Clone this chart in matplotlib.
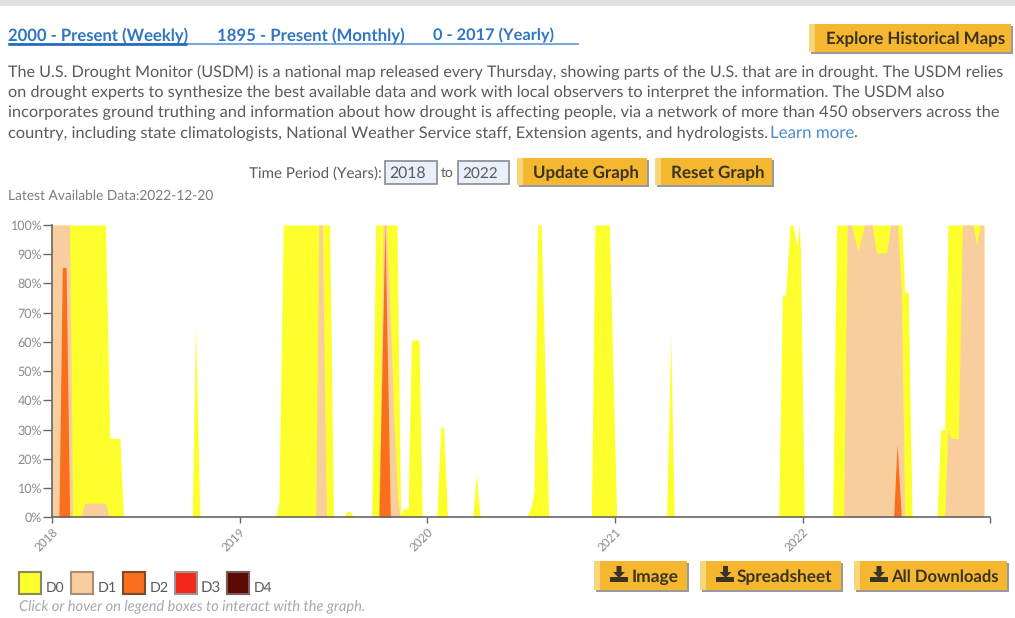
import numpy as np
import matplotlib
matplotlib.use("Agg")
import matplotlib.pyplot as plt
from matplotlib.patches import Rectangle, Polygon
from matplotlib.font_manager import FontProperties
from matplotlib.textpath import TextPath

plt.rcParams["text.hinting"] = "no_hinting"
plt.rcParams["text.hinting_factor"] = 8

# ---------- data (decimal year, percent of area) ----------
d0_years = [2018.000, 2018.285, 2018.308, 2018.362, 2018.381,
            2018.747, 2018.765, 2018.788,
            2019.192, 2019.209, 2019.232, 2019.480, 2019.500,
            2019.551, 2019.572, 2019.590, 2019.607,
            2019.703, 2019.725, 2019.838, 2019.858, 2019.874, 2019.897, 2019.915, 2019.956, 2019.973,
            2020.050, 2020.071, 2020.087, 2020.108,
            2020.242, 2020.261, 2020.281,
            2020.529, 2020.555, 2020.568, 2020.588, 2020.607, 2020.647,
            2020.874, 2020.893, 2020.970, 2021.009,
            2021.275, 2021.297, 2021.316,
            2021.872, 2021.892, 2021.909, 2021.932, 2021.948, 2021.970, 2021.982, 2021.989, 2022.009,
            2022.160, 2022.181, 2022.528, 2022.544, 2022.563, 2022.583,
            2022.716, 2022.735, 2022.757, 2022.774, 2022.966]
d0_values = [100, 100, 27, 27, 0,
             0, 66, 0,
             0, 5, 100, 100, 0,
             0, 2, 2, 0,
             0, 100, 100, 1, 3, 3, 60.7, 60.7, 0,
             0, 30.8, 30.8, 0,
             0, 15, 0,
             0, 4, 9, 100, 100, 0,
             0, 100, 100, 0,
             0, 62, 0,
             0, 76, 76, 100, 100, 93, 100, 90, 0,
             0, 100, 100, 77, 77, 0,
             0, 30, 30, 100, 100]

d1_years = [2018.000, 2018.094, 2018.110,
            2018.155, 2018.173, 2018.285, 2018.305,
            2019.405, 2019.422, 2019.440, 2019.462,
            2019.742, 2019.764, 2019.782, 2019.801, 2019.821, 2019.840, 2019.853,
            2022.218, 2022.238, 2022.259, 2022.295, 2022.330, 2022.371, 2022.393, 2022.448, 2022.469,
            2022.506, 2022.526, 2022.544,
            2022.757, 2022.774, 2022.789, 2022.830, 2022.851, 2022.908, 2022.927, 2022.947, 2022.966]
d1_values = [100, 100, 0,
             0, 4.8, 4.8, 0,
             0, 100, 100, 0,
             0, 100, 100, 72, 35, 8, 0,
             0, 100, 100, 91, 100, 100, 90.5, 90.5, 100,
             100, 77, 0,
             0, 30, 27, 27, 100, 100, 93, 100, 100]

d2_years = [2018.037, 2018.055, 2018.075, 2018.094,
            2019.742, 2019.774, 2019.803,
            2022.485, 2022.503, 2022.526]
d2_values = [0, 85.5, 85.5, 0,
             0, 100, 0,
             0, 25, 0]

year_ticks = [2018, 2019, 2020, 2021, 2022]
pct_ticks = list(range(0, 101, 10))
legend_labels = ["D0", "D1", "D2", "D3", "D4"]

body_lines = [
    "The U.S. Drought Monitor (USDM) is a national map released every Thursday, showing parts of the U.S. that are in drought. The USDM relies",
    "on drought experts to synthesize the best available data and work with local observers to interpret the information. The USDM also",
    "incorporates ground truthing and information about how drought is affecting people, via a network of more than 450 observers across the",
    "country, including state climatologists, National Weather Service staff, Extension agents, and hydrologists.",
]

# ---------- style ----------
W, H = 1015, 618
C_D0, C_D1, C_D2, C_D3, C_D4 = "#FCFF2B", "#F8CE9F", "#F96F1D", "#F2291A", "#5A0A00"
GOLD, GOLD_L = "#F4B72F", "#F8D67C"
BLUE, GREY, BTN = "#2F75C2", "#5A5A5A", "#3A3224"
FONT = "Lato"

fig = plt.figure(figsize=(W / 100, H / 100), dpi=100, facecolor="white")
ui = fig.add_axes([0, 0, 1, 1], zorder=1)
ui.set_xlim(0, W); ui.set_ylim(H, 0); ui.axis("off")


def fit(s, x0, x1, y, color=GREY, fontweight="normal", style="normal", zorder=6):
    """Place real text so that its outline spans x0..x1 pixels, centred on y."""
    fp = FontProperties(family=FONT, weight=fontweight, style=style)
    w = TextPath((0, 0), s, size=100, prop=fp).get_extents().width
    size = 100 * (x1 - x0) * 0.72 / w
    return ui.text(x0, y, s, color=color, va="center_baseline", ha="left",
                   fontproperties=fp, fontsize=size, zorder=zorder)


def button(x0, x1, y0, y1, label, tx0, tx1):
    ui.add_patch(Rectangle((x0 + 2, y0 + 2), x1 - x0, y1 - y0, fc="#9A9A9A", ec="none", zorder=2))
    ui.add_patch(Rectangle((x0, y0), x1 - x0, y1 - y0, fc=GOLD, ec="none", zorder=3))
    ui.add_patch(Rectangle((x0, y0), 6, y1 - y0, fc=GOLD_L, ec="none", zorder=4))
    fit(label, tx0, tx1, (y0 + y1) / 2, color=BTN, fontweight="bold")


def dl_icon(cx, cy):
    a = Polygon([(cx - 2.5, cy - 9), (cx + 2.5, cy - 9), (cx + 2.5, cy - 3), (cx + 6, cy - 3),
                 (cx, cy + 3), (cx - 6, cy - 3), (cx - 2.5, cy - 3)], fc=BTN, ec="none", zorder=5)
    ui.add_patch(a)
    ui.add_patch(Rectangle((cx - 9, cy + 2), 18, 5, fc=BTN, ec="none", zorder=5))


# top strip
ui.add_patch(Rectangle((0, 0), W, 5.5, fc="#E0E1E3", ec="none"))

# tabs
fit("2000 - Present (Weekly)", 8, 187, 34, color=BLUE, fontweight="bold")
fit("1895 - Present (Monthly)", 217, 403, 34, color=BLUE, fontweight="bold")
fit("0 - 2017 (Yearly)", 433, 553, 34, color=BLUE, fontweight="bold")
ui.plot([8, 579], [44, 44], color="#4A90DC", lw=1.1, solid_capstyle="butt")
ui.plot([8, 187], [44, 44], color="#2A6DBB", lw=2.0, solid_capstyle="butt")

# body
for s, x1, y in zip(body_lines, [1003, 946, 997, 766], [70.7, 91, 111.3, 132]):
    fit(s, 8, x1, y)
fit("Learn more", 770, 852, 132, color="#4A8BD6")
fit(".", 853, 855, 132)

# time period row
fit("Time Period (Years):", 249, 381, 172)
for x0, x1, lab, tx0, tx1 in [(385, 437, "2018", 389, 424), (458, 509, "2022", 462, 496)]:
    ui.add_patch(Rectangle((x0, 160.5), x1 - x0, 23.5, fc="#E8F0FE", ec="#8A8A8A", lw=1.2))
    fit(lab, tx0, tx1, 172)
fit("to", 441, 453, 172)
button(517, 647, 158, 185, "Update Graph", 533, 637)
button(655, 772, 158, 185, "Reset Graph", 671, 762)
button(809, 1011, 23.5, 51.5, "Explore Historical Maps", 826, 1003)
fit("Latest Available Data:2022-12-20", 8, 211, 195, color="#7C7C7C")

# legend
leg_x = [19.5, 71.5, 123.5, 175.5, 227.5]
leg_t = [(46, 63), (98, 115), (150, 167), (201, 219), (254, 271)]
leg_c = [C_D0, C_D1, C_D2, C_D3, C_D4]
leg_e = ["#8A8A55", "#A88E76", "#7A4A2A", "#A09090", "#7A5A5A"]
for x, (t0, t1), c, e, lab in zip(leg_x, leg_t, leg_c, leg_e, legend_labels):
    ui.add_patch(Rectangle((x, 572), 22, 21.5, fc=c, ec=e, lw=1.5))
    fit(lab, t0, t1, 587)
fit("Click or hover on legend boxes to interact with the graph.", 19, 363, 605,
    color="#A8A8A8", style="italic")

# download buttons
button(594, 687, 561, 590, "Image", 632, 677)
dl_icon(619, 575)
button(700, 841, 561, 590, "Spreadsheet", 737, 832)
dl_icon(725.5, 575)
button(854, 1007, 561, 590, "All Downloads", 891, 998)
dl_icon(879, 575)

# ---------- chart ----------
ax_l, ax_r, ax_t, ax_b = 52, 990.3, 225, 517.3
ax = fig.add_axes([ax_l / W, 1 - ax_b / H, (ax_r - ax_l) / W, (ax_b - ax_t) / H], zorder=2)
ax.patch.set_alpha(0)
ax.fill_between(d0_years, 0, d0_values, color=C_D0, lw=0, zorder=1)
ax.fill_between(d1_years, 0, d1_values, color=C_D1, lw=0, zorder=2)
ax.fill_between(d2_years, 0, d2_values, color=C_D2, lw=0, zorder=3)
ax.set_xlim(2018, 2023)
ax.set_ylim(0, 100)
ax.set_yticks(pct_ticks, [f"{v}%" for v in pct_ticks])
ax.set_xticks(year_ticks + [2023], [str(y) for y in year_ticks] + [""])
for s in ("top", "right"):
    ax.spines[s].set_visible(False)
for s in ("left", "bottom"):
    ax.spines[s].set_color("#666666")
    ax.spines[s].set_linewidth(1.2)
    ax.spines[s].set_zorder(5)
ax.tick_params(axis="y", length=6.5, width=1.0, color="#666666", labelcolor="#8A8A8A",
               labelsize=9, pad=0.5)
ax.tick_params(axis="x", length=4.5, width=1.0, color="#666666", labelcolor="#8A8A8A",
               labelsize=8.5, pad=2)
for t in ax.get_yticklabels() + ax.get_xticklabels():
    t.set_family(FONT)
for t in ax.get_xticklabels():
    t.set_rotation(45); t.set_ha("right"); t.set_rotation_mode("anchor")

fig.savefig("out.png", dpi=100)
